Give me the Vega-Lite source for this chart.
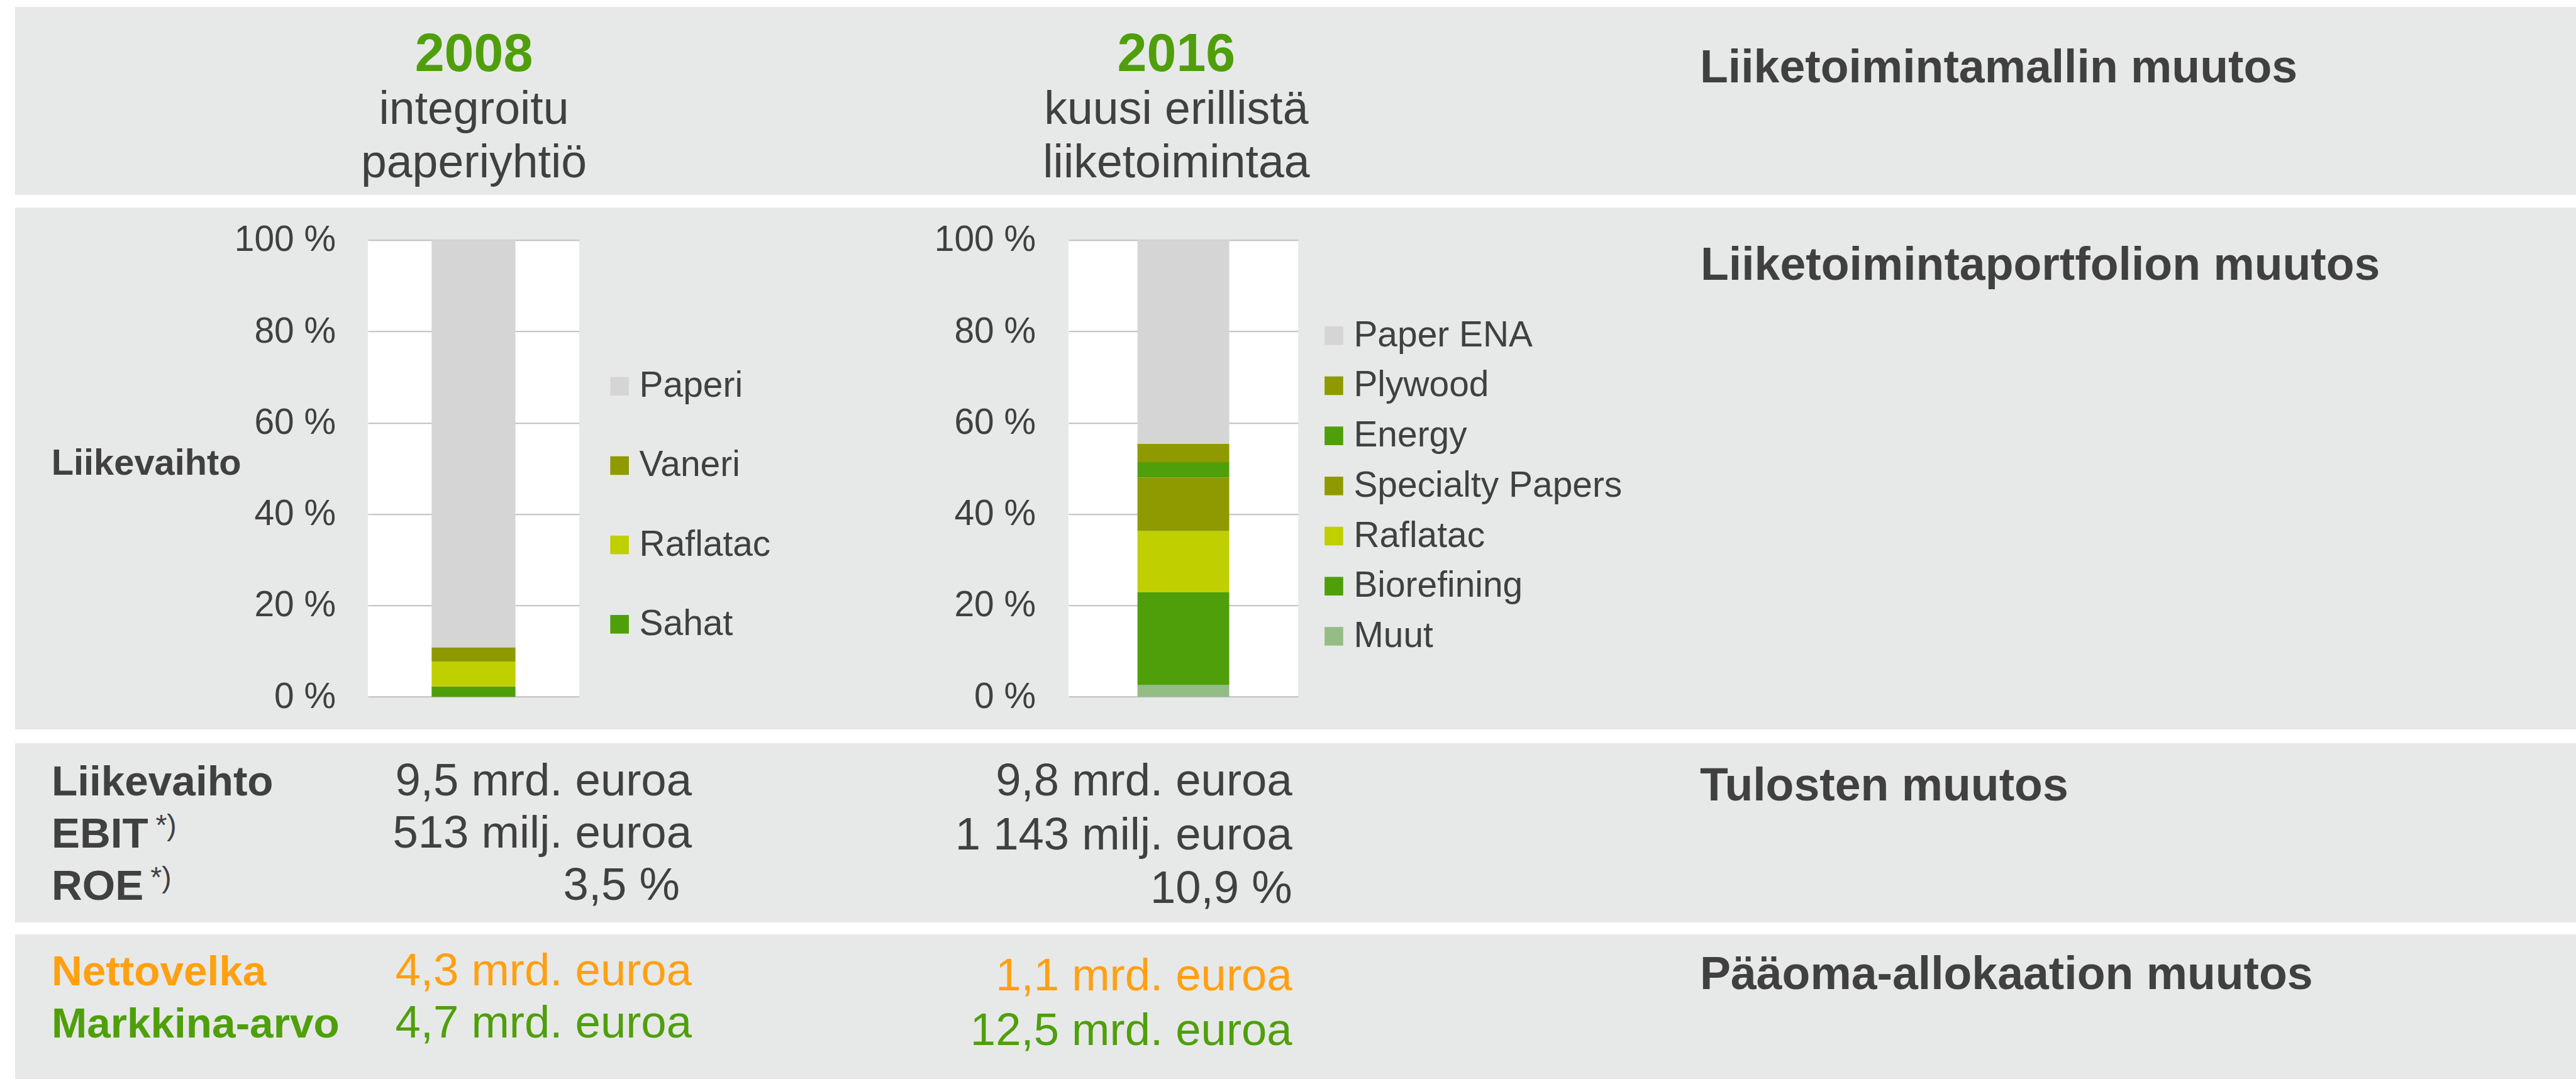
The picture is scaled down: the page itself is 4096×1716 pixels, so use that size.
{
  "$schema": "https://vega.github.io/schema/vega-lite/v6.json",
  "background": "#E7E9E8",
  "padding": 0,
  "config": {"view": {"stroke": null}, "font": "Liberation Sans", "concat": {"spacing": 0}},
  "datasets": {
    "rev2008": [
      {"year": "2008", "segment": "Sahat", "share": 2.27, "rank": 1},
      {"year": "2008", "segment": "Raflatac", "share": 5.45, "rank": 2},
      {"year": "2008", "segment": "Vaneri", "share": 3.11, "rank": 3},
      {"year": "2008", "segment": "Paperi", "share": 89.17, "rank": 4}
    ],
    "rev2016": [
      {"year": "2016", "segment": "Muut", "share": 2.58, "rank": 1},
      {"year": "2016", "segment": "Biorefining", "share": 20.3, "rank": 2},
      {"year": "2016", "segment": "Raflatac", "share": 13.41, "rank": 3},
      {"year": "2016", "segment": "Specialty Papers", "share": 11.74, "rank": 4},
      {"year": "2016", "segment": "Energy", "share": 3.33, "rank": 5},
      {"year": "2016", "segment": "Plywood", "share": 4.02, "rank": 6},
      {"year": "2016", "segment": "Paper ENA", "share": 44.62, "rank": 7}
    ],
    "years": [
      {"col": "2008", "role": "year", "text": "2008"},
      {"col": "2008", "role": "l1", "text": "integroitu"},
      {"col": "2008", "role": "l2", "text": "paperiyhtiö"},
      {"col": "2016", "role": "year", "text": "2016"},
      {"col": "2016", "role": "l1", "text": "kuusi erillistä"},
      {"col": "2016", "role": "l2", "text": "liiketoimintaa"}
    ],
    "headers": [
      {"band": "b1", "text": "Liiketoimintamallin muutos"},
      {"band": "b2", "text": "Liiketoimintaportfolion muutos"},
      {"band": "b3", "text": "Tulosten muutos"},
      {"band": "b4", "text": "Pääoma-allokaation muutos"}
    ],
    "results": [
      {"row": "Liikevaihto", "label": "Liikevaihto", "note": "", "v2008": "9,5 mrd. euroa", "v2016": "9,8 mrd. euroa"},
      {"row": "EBIT", "label": "EBIT", "note": "*)", "v2008": "513 milj. euroa", "v2016": "1 143 milj. euroa"},
      {"row": "ROE", "label": "ROE", "note": "*)", "v2008": "3,5 %", "v2016": "10,9 %"}
    ],
    "capital": [
      {"row": "Nettovelka", "label": "Nettovelka", "v2008": "4,3 mrd. euroa", "v2016": "1,1 mrd. euroa"},
      {"row": "Markkina-arvo", "label": "Markkina-arvo", "v2008": "4,7 mrd. euroa", "v2016": "12,5 mrd. euroa"}
    ]
  },
  "spacing": 0,
  "resolve": {"scale": {"color": "independent"}, "legend": {"color": "independent"}},
  "hconcat": [
    {"width": 24, "height": 1716, "view": {"fill": "white", "stroke": null}, "data": {"values": [{}]}, "mark": {"type": "point", "opacity": 0}, "encoding": {}},
    {
      "spacing": 0,
      "resolve": {"scale": {"color": "independent"}, "legend": {"color": "independent"}},
      "vconcat": [
        {"width": 4072, "height": 11, "view": {"fill": "white", "stroke": null}, "data": {"values": [{}]}, "mark": {"type": "point", "opacity": 0}, "encoding": {}},
        {
          "spacing": 0, "bounds": "flush",
          "hconcat": [
            {
              "width": 1459, "height": 299,
              "data": {"name": "years"},
              "transform": [{"filter": "datum.col === '2008'"}],
              "encoding": {
                "x": {"field": "col", "type": "nominal", "axis": null},
                "y": {"field": "role", "type": "nominal", "axis": null, "scale": {"type": "point", "domain": ["year", "l1", "l2"], "range": [101.9, 270.5], "padding": 0}},
                "text": {"field": "text"}
              },
              "layer": [
                {"transform": [{"filter": "datum.role === 'year'"}], "mark": {"type": "text", "align": "center", "baseline": "alphabetic", "fontSize": 84.4, "fontWeight": "bold", "color": "#4F9F0B"}},
                {"transform": [{"filter": "datum.role !== 'year'"}], "mark": {"type": "text", "align": "center", "baseline": "alphabetic", "fontSize": 73.4, "color": "#404040"}}
              ]
            },
            {
              "width": 774.8, "height": 299,
              "data": {"name": "years"},
              "transform": [{"filter": "datum.col === '2016'"}],
              "encoding": {
                "x": {"field": "col", "type": "nominal", "axis": null},
                "y": {"field": "role", "type": "nominal", "axis": null, "scale": {"type": "point", "domain": ["year", "l1", "l2"], "range": [101.9, 270.5], "padding": 0}},
                "text": {"field": "text"}
              },
              "layer": [
                {"transform": [{"filter": "datum.role === 'year'"}], "mark": {"type": "text", "align": "center", "baseline": "alphabetic", "fontSize": 84.4, "fontWeight": "bold", "color": "#4F9F0B"}},
                {"transform": [{"filter": "datum.role !== 'year'"}], "mark": {"type": "text", "align": "center", "baseline": "alphabetic", "fontSize": 73.4, "color": "#404040"}}
              ]
            },
            {"width": 444.2, "height": 299, "data": {"values": [{}]}, "mark": {"type": "point", "opacity": 0}, "encoding": {}},
            {
              "width": 1394, "height": 299,
              "data": {"name": "headers"},
              "transform": [{"filter": "datum.band === 'b1'"}],
              "mark": {"type": "text", "align": "left", "baseline": "alphabetic", "fontSize": 73.4, "fontWeight": "bold", "color": "#404040"},
              "encoding": {
                "x": {"field": "band", "type": "nominal", "axis": null, "scale": {"type": "point", "padding": 0, "align": 0}},
                "y": {"field": "band", "type": "nominal", "axis": null, "scale": {"type": "point", "range": [120, 120]}},
                "text": {"field": "text"}
              }
            }
          ]
        },
        {"width": 4072, "height": 20, "view": {"fill": "white", "stroke": null}, "data": {"values": [{}]}, "mark": {"type": "point", "opacity": 0}, "encoding": {}},
        {
          "spacing": 0, "bounds": "flush", "center": true,
          "resolve": {"scale": {"color": "independent"}, "legend": {"color": "independent"}},
          "hconcat": [
            {"width": 560.6, "height": 830, "data": {"values": [{}]}, "mark": {"type": "point", "opacity": 0}, "encoding": {}},
            {
              "width": 335.9, "height": 726.4,
              "view": {"fill": "white", "stroke": null},
              "data": {"name": "rev2008"},
              "mark": {"type": "bar"},
              "encoding": {
                "x": {"field": "year", "type": "nominal", "axis": null, "scale": {"paddingInner": 0, "paddingOuter": 0.76}},
                "y": {
                  "field": "share", "type": "quantitative", "stack": "zero",
                  "scale": {"domain": [0, 100], "nice": false},
                  "axis": {
                    "values": [0, 20, 40, 60, 80, 100],
                    "labelExpr": "datum.value + ' %'",
                    "labelFontSize": 56.9, "labelColor": "#404040", "labelPadding": 51.4,
                    "labelOverlap": false, "labelFlush": false,
                    "ticks": false, "tickSize": 0, "domain": false,
                    "grid": true, "gridColor": "#BFBFBF", "gridWidth": 2,
                    "title": "Liikevaihto", "titleAngle": 0, "titleAlign": "left", "titleBaseline": "alphabetic",
                    "titleX": -503.8, "titleY": 372.3, "titleFontSize": 57.8, "titleFontWeight": "bold", "titleColor": "#404040"
                  }
                },
                "color": {
                  "field": "segment", "type": "nominal",
                  "scale": {"domain": ["Paperi", "Vaneri", "Raflatac", "Sahat"], "range": ["#D5D5D5", "#8F9A00", "#C0CF00", "#4F9F0B"]},
                  "legend": {
                    "orient": "none", "legendX": 371.7, "legendY": 204, "direction": "vertical",
                    "title": null, "padding": 0, "symbolType": "square", "symbolSize": 876, "symbolStrokeWidth": 0,
                    "labelFontSize": 56.9, "labelColor": "#404040", "labelOffset": 3, "labelLimit": 1000, "rowPadding": 68.2
                  }
                },
                "order": {"field": "rank", "type": "quantitative"}
              }
            },
            {"width": 777.4, "height": 830, "data": {"values": [{}]}, "mark": {"type": "point", "opacity": 0}, "encoding": {}},
            {
              "width": 365.2, "height": 726.4,
              "view": {"fill": "white", "stroke": null},
              "data": {"name": "rev2016"},
              "mark": {"type": "bar"},
              "encoding": {
                "x": {"field": "year", "type": "nominal", "axis": null, "scale": {"paddingInner": 0, "paddingOuter": 0.7515}},
                "y": {
                  "field": "share", "type": "quantitative", "stack": "zero",
                  "scale": {"domain": [0, 100], "nice": false},
                  "axis": {
                    "values": [0, 20, 40, 60, 80, 100],
                    "labelExpr": "datum.value + ' %'",
                    "labelFontSize": 56.9, "labelColor": "#404040", "labelPadding": 52.4,
                    "labelOverlap": false, "labelFlush": false,
                    "ticks": false, "tickSize": 0, "domain": false,
                    "grid": true, "gridColor": "#BFBFBF", "gridWidth": 2,
                    "title": null
                  }
                },
                "color": {
                  "field": "segment", "type": "nominal",
                  "scale": {"domain": ["Paper ENA", "Plywood", "Energy", "Specialty Papers", "Raflatac", "Biorefining", "Muut"], "range": ["#D5D5D5", "#8F9A00", "#4F9F0B", "#8F9A00", "#C0CF00", "#4F9F0B", "#93BD85"]},
                  "legend": {
                    "orient": "none", "legendX": 393.5, "legendY": 123.5, "direction": "vertical",
                    "title": null, "padding": 0, "symbolType": "square", "symbolSize": 876, "symbolStrokeWidth": 0,
                    "labelFontSize": 56.9, "labelColor": "#404040", "labelOffset": 3, "labelLimit": 1000, "rowPadding": 21.7
                  }
                },
                "order": {"field": "rank", "type": "quantitative"}
              }
            },
            {"width": 638.9, "height": 830, "data": {"values": [{}]}, "mark": {"type": "point", "opacity": 0}, "encoding": {}},
            {
              "width": 1394, "height": 830,
              "data": {"name": "headers"},
              "transform": [{"filter": "datum.band === 'b2'"}],
              "mark": {"type": "text", "align": "left", "baseline": "alphabetic", "fontSize": 73.4, "fontWeight": "bold", "color": "#404040"},
              "encoding": {
                "x": {"field": "band", "type": "nominal", "axis": null, "scale": {"type": "point", "padding": 0, "align": 0}},
                "y": {"field": "band", "type": "nominal", "axis": null, "scale": {"type": "point", "range": [115, 115]}},
                "text": {"field": "text"}
              }
            }
          ]
        },
        {"width": 4072, "height": 22, "view": {"fill": "white", "stroke": null}, "data": {"values": [{}]}, "mark": {"type": "point", "opacity": 0}, "encoding": {}},
        {
          "spacing": 0, "bounds": "flush",
          "hconcat": [
            {"width": 58, "height": 285, "data": {"values": [{}]}, "mark": {"type": "point", "opacity": 0}, "encoding": {}},
            {
              "width": 1018, "height": 285,
              "data": {"name": "results"},
              "encoding": {
                "y": {"field": "row", "type": "nominal", "axis": null, "scale": {"type": "point", "domain": ["Liikevaihto", "EBIT", "ROE"], "range": [83.3, 248.6], "padding": 0}}
              },
              "layer": [
                {
                  "mark": {"type": "text", "align": "left", "baseline": "alphabetic", "fontSize": 67.5, "fontWeight": "bold", "color": "#404040"},
                  "encoding": {"x": {"datum": "label", "type": "nominal", "axis": null, "scale": {"type": "point", "domain": ["label", "value"], "padding": 0}}, "text": {"field": "label"}}
                },
                {
                  "transform": [{"filter": "datum.row !== 'ROE'"}],
                  "mark": {"type": "text", "align": "right", "baseline": "alphabetic", "fontSize": 72.5, "color": "#404040"},
                  "encoding": {"x": {"datum": "value", "type": "nominal", "axis": null}, "text": {"field": "v2008"}}
                },
                {
                  "transform": [{"filter": "datum.row === 'ROE'"}],
                  "mark": {"type": "text", "align": "right", "baseline": "alphabetic", "fontSize": 72.5, "dx": -19, "color": "#404040"},
                  "encoding": {"x": {"datum": "value", "type": "nominal", "axis": null}, "text": {"field": "v2008"}}
                },
                {
                  "transform": [{"filter": "datum.row === 'EBIT'"}],
                  "mark": {"type": "text", "align": "left", "baseline": "alphabetic", "fontSize": 46, "dx": 165.4, "dy": -20, "color": "#404040"},
                  "encoding": {"x": {"datum": "label", "type": "nominal", "axis": null}, "text": {"field": "note"}}
                },
                {
                  "transform": [{"filter": "datum.row === 'ROE'"}],
                  "mark": {"type": "text", "align": "left", "baseline": "alphabetic", "fontSize": 46, "dx": 157.3, "dy": -20, "color": "#404040"},
                  "encoding": {"x": {"datum": "label", "type": "nominal", "axis": null}, "text": {"field": "note"}}
                }
              ]
            },
            {
              "width": 954.7, "height": 285,
              "data": {"name": "results"},
              "mark": {"type": "text", "align": "right", "baseline": "alphabetic", "fontSize": 72.5, "color": "#404040"},
              "encoding": {
                "x": {"datum": "value", "type": "nominal", "axis": null, "scale": {"type": "point", "padding": 0, "align": 1}},
                "y": {"field": "row", "type": "nominal", "axis": null, "scale": {"type": "point", "domain": ["Liikevaihto", "EBIT", "ROE"], "range": [83, 254], "padding": 0}},
                "text": {"field": "v2016"}
              }
            },
            {"width": 647.3, "height": 285, "data": {"values": [{}]}, "mark": {"type": "point", "opacity": 0}, "encoding": {}},
            {
              "width": 1394, "height": 285,
              "data": {"name": "headers"},
              "transform": [{"filter": "datum.band === 'b3'"}],
              "mark": {"type": "text", "align": "left", "baseline": "alphabetic", "fontSize": 73.4, "fontWeight": "bold", "color": "#404040"},
              "encoding": {
                "x": {"field": "band", "type": "nominal", "axis": null, "scale": {"type": "point", "padding": 0, "align": 0}},
                "y": {"field": "band", "type": "nominal", "axis": null, "scale": {"type": "point", "range": [91, 91]}},
                "text": {"field": "text"}
              }
            }
          ]
        },
        {"width": 4072, "height": 19, "view": {"fill": "white", "stroke": null}, "data": {"values": [{}]}, "mark": {"type": "point", "opacity": 0}, "encoding": {}},
        {
          "spacing": 0, "bounds": "flush",
          "resolve": {"scale": {"color": "independent"}, "legend": {"color": "independent"}},
          "hconcat": [
            {"width": 58, "height": 230, "data": {"values": [{}]}, "mark": {"type": "point", "opacity": 0}, "encoding": {}},
            {
              "width": 1018, "height": 230,
              "data": {"name": "capital"},
              "encoding": {
                "y": {"field": "row", "type": "nominal", "axis": null, "scale": {"type": "point", "domain": ["Nettovelka", "Markkina-arvo"], "range": [81, 164], "padding": 0}},
                "color": {"field": "row", "type": "nominal", "scale": {"domain": ["Nettovelka", "Markkina-arvo"], "range": ["#FFA012", "#4F9F0B"]}, "legend": null}
              },
              "layer": [
                {
                  "mark": {"type": "text", "align": "left", "baseline": "alphabetic", "fontSize": 67.5, "fontWeight": "bold"},
                  "encoding": {"x": {"datum": "label", "type": "nominal", "axis": null, "scale": {"type": "point", "domain": ["label", "value"], "padding": 0}}, "text": {"field": "label"}}
                },
                {
                  "mark": {"type": "text", "align": "right", "baseline": "alphabetic", "fontSize": 72.5},
                  "encoding": {"x": {"datum": "value", "type": "nominal", "axis": null}, "text": {"field": "v2008"}}
                }
              ]
            },
            {
              "width": 954.7, "height": 230,
              "data": {"name": "capital"},
              "mark": {"type": "text", "align": "right", "baseline": "alphabetic", "fontSize": 72.5},
              "encoding": {
                "x": {"datum": "value", "type": "nominal", "axis": null, "scale": {"type": "point", "padding": 0, "align": 1}},
                "y": {"field": "row", "type": "nominal", "axis": null, "scale": {"type": "point", "domain": ["Nettovelka", "Markkina-arvo"], "range": [88.7, 175.5], "padding": 0}},
                "color": {"field": "row", "type": "nominal", "scale": {"domain": ["Nettovelka", "Markkina-arvo"], "range": ["#FFA012", "#4F9F0B"]}, "legend": null},
                "text": {"field": "v2016"}
              }
            },
            {"width": 647.3, "height": 230, "data": {"values": [{}]}, "mark": {"type": "point", "opacity": 0}, "encoding": {}},
            {
              "width": 1394, "height": 230,
              "data": {"name": "headers"},
              "transform": [{"filter": "datum.band === 'b4'"}],
              "mark": {"type": "text", "align": "left", "baseline": "alphabetic", "fontSize": 73.4, "fontWeight": "bold", "color": "#404040"},
              "encoding": {
                "x": {"field": "band", "type": "nominal", "axis": null, "scale": {"type": "point", "padding": 0, "align": 0}},
                "y": {"field": "band", "type": "nominal", "axis": null, "scale": {"type": "point", "range": [86.9, 86.9]}},
                "text": {"field": "text"}
              }
            }
          ]
        }
      ]
    }
  ]
}
